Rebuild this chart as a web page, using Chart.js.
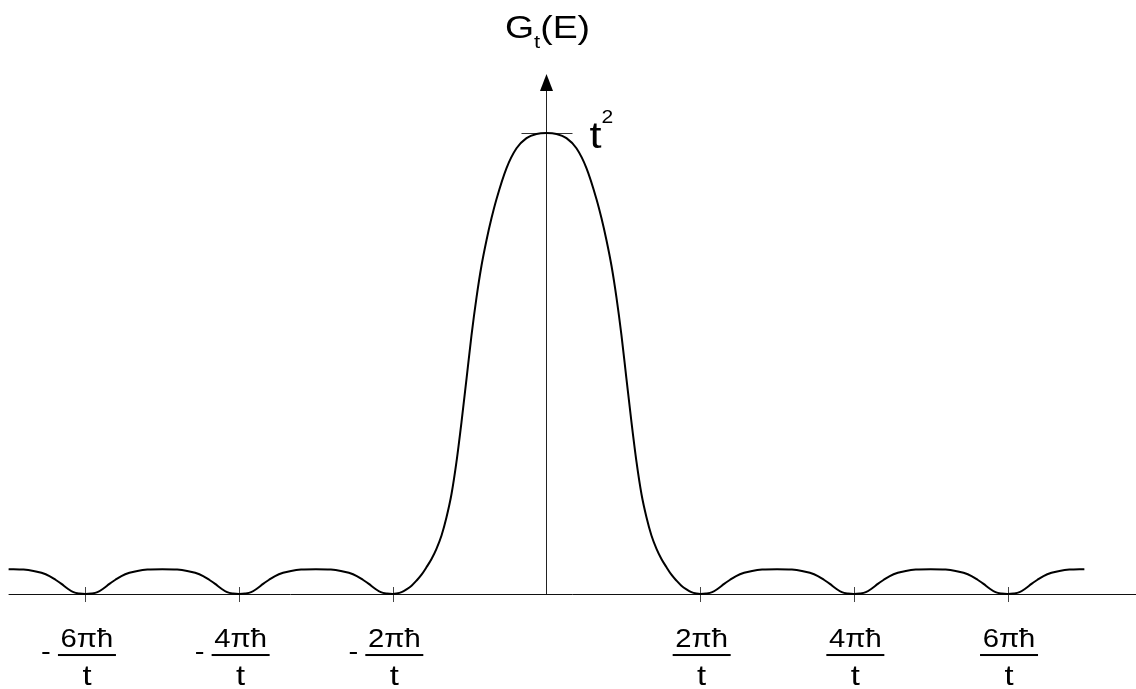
<!DOCTYPE html>
<html>
<head>
<meta charset="utf-8">
<script src="https://cdn.jsdelivr.net/npm/chart.js@4/dist/chart.umd.min.js"></script>
<style>
html,body{margin:0;padding:0;background:#fff;}
#wrap{width:1136px;height:689px;}
</style>
</head>
<body>
<div id="wrap"><canvas id="c" width="1136" height="689"></canvas></div>
<script>
// Energy in units of 2πħ/t, G normalised to t² = 1
const energy = [
  -3.5, -3.403, -3.338, -3.286, -3.234, -3.195, -3.156, -3.117, -3.078, -3.039, -3.0,
  -2.961, -2.922, -2.883, -2.844, -2.805, -2.766, -2.714, -2.662, -2.597, -2.5,
  -2.403, -2.338, -2.286, -2.234, -2.195, -2.156, -2.117, -2.078, -2.039, -2.0,
  -1.961, -1.922, -1.883, -1.844, -1.805, -1.766, -1.714, -1.662, -1.597, -1.5,
  -1.403, -1.338, -1.286, -1.234, -1.195, -1.156, -1.117, -1.078, -1.039, -1.0,
  -0.976, -0.943, -0.911, -0.878, -0.846, -0.813, -0.781, -0.748, -0.716, -0.683,
  -0.651, -0.618, -0.586, -0.553, -0.520, -0.488, -0.455, -0.423, -0.390, -0.358,
  -0.325, -0.260, -0.195, -0.130, -0.065, 0,
  0.065, 0.130, 0.195, 0.260, 0.325, 0.358, 0.390, 0.423, 0.455, 0.488,
  0.520, 0.553, 0.586, 0.618, 0.651, 0.683, 0.716, 0.748, 0.781, 0.813,
  0.846, 0.878, 0.911, 0.943, 0.976, 1.0,
  1.039, 1.078, 1.117, 1.156, 1.195, 1.234, 1.286, 1.338, 1.403, 1.5,
  1.597, 1.662, 1.714, 1.766, 1.805, 1.844, 1.883, 1.922, 1.961, 2.0,
  2.039, 2.078, 2.117, 2.156, 2.195, 2.234, 2.286, 2.338, 2.403, 2.5,
  2.597, 2.662, 2.714, 2.766, 2.805, 2.844, 2.883, 2.922, 2.961, 3.0,
  3.039, 3.078, 3.117, 3.156, 3.195, 3.234, 3.286, 3.338, 3.403, 3.5
];
const gValues = [
  0.054, 0.053, 0.050, 0.046, 0.039, 0.031, 0.022, 0.012, 0.004, 0.001, 0,
  0.001, 0.004, 0.012, 0.022, 0.031, 0.039, 0.046, 0.050, 0.053, 0.054,
  0.053, 0.050, 0.046, 0.039, 0.031, 0.022, 0.012, 0.004, 0.001, 0,
  0.001, 0.004, 0.012, 0.022, 0.031, 0.039, 0.046, 0.050, 0.053, 0.054,
  0.053, 0.050, 0.046, 0.039, 0.031, 0.022, 0.012, 0.004, 0.001, 0,
  0.001, 0.004, 0.010, 0.018, 0.029, 0.042, 0.058, 0.076, 0.098, 0.127,
  0.166, 0.217, 0.286, 0.373, 0.468, 0.561, 0.644, 0.712, 0.768, 0.815,
  0.857, 0.924, 0.967, 0.989, 0.998, 1.0,
  0.998, 0.989, 0.967, 0.924, 0.857, 0.815, 0.768, 0.712, 0.644, 0.561,
  0.468, 0.373, 0.286, 0.217, 0.166, 0.127, 0.098, 0.076, 0.058, 0.042,
  0.029, 0.018, 0.010, 0.004, 0.001, 0,
  0.001, 0.004, 0.012, 0.022, 0.031, 0.039, 0.046, 0.050, 0.053, 0.054,
  0.053, 0.050, 0.046, 0.039, 0.031, 0.022, 0.012, 0.004, 0.001, 0,
  0.001, 0.004, 0.012, 0.022, 0.031, 0.039, 0.046, 0.050, 0.053, 0.054,
  0.053, 0.050, 0.046, 0.039, 0.031, 0.022, 0.012, 0.004, 0.001, 0,
  0.001, 0.004, 0.012, 0.022, 0.031, 0.039, 0.046, 0.050, 0.053, 0.054
];
const tickValues = [-3, -2, -1, 1, 2, 3];
const tickSigns = ['-', '-', '-', '', '', ''];
const tickNumerators = ['6πħ', '4πħ', '2πħ', '2πħ', '4πħ', '6πħ'];
const tickDenominator = 't';
const peakValue = 1;
const peakLabel = 't';
const peakSup = '2';
const titleMain = 'G';
const titleSub = 't';
const titleRest = '(E)';
const axisTopValue = 1.128;
const baselineStart = -3.5;

const points = energy.map((e, i) => ({x: e, y: gValues[i]}));
const FONT = '"Liberation Sans", Arial, sans-serif';
const STRETCH = 1.17;

// draw text horizontally stretched, anchored at (x, y)
function sText(ctx, str, x, y, font, align) {
  ctx.save();
  ctx.font = font;
  const w = ctx.measureText(str).width * STRETCH;
  let left = x;
  if (align === 'center') left = x - w / 2;
  ctx.translate(left, y);
  ctx.scale(STRETCH, 1);
  ctx.textAlign = 'left';
  ctx.fillText(str, 0, 0);
  ctx.restore();
  return w;
}
function sWidth(ctx, str, font) {
  ctx.save();
  ctx.font = font;
  const w = ctx.measureText(str).width * STRETCH;
  ctx.restore();
  return w;
}

const decor = {
  id: 'decor',
  beforeDatasetsDraw(chart) {
    const ctx = chart.ctx;
    const xs = chart.scales.x, ys = chart.scales.y;
    const x0 = xs.getPixelForValue(0);
    const y0 = ys.getPixelForValue(0);
    const yTop = ys.getPixelForValue(axisTopValue);
    const yPeak = ys.getPixelForValue(peakValue);
    const ax = Math.round(x0) + 0.5;
    ctx.save();
    // baseline
    ctx.strokeStyle = '#111';
    ctx.lineWidth = 1;
    ctx.beginPath();
    ctx.moveTo(xs.getPixelForValue(baselineStart), Math.round(y0) + 0.5);
    ctx.lineTo(chart.width, Math.round(y0) + 0.5);
    ctx.stroke();
    // vertical axis
    ctx.strokeStyle = '#222';
    ctx.beginPath();
    ctx.moveTo(ax, y0);
    ctx.lineTo(ax, yTop + 10);
    ctx.stroke();
    // arrow head
    ctx.fillStyle = '#000';
    ctx.beginPath();
    ctx.moveTo(ax, yTop);
    ctx.lineTo(ax - 6.5, yTop + 17);
    ctx.lineTo(ax + 6.5, yTop + 17);
    ctx.closePath();
    ctx.fill();
    // peak tick
    ctx.strokeStyle = '#333';
    ctx.beginPath();
    ctx.moveTo(x0 - 25, Math.round(yPeak) + 0.5);
    ctx.lineTo(x0 + 26, Math.round(yPeak) + 0.5);
    ctx.stroke();
    // zero ticks
    ctx.strokeStyle = '#444';
    tickValues.forEach(v => {
      const px = Math.round(xs.getPixelForValue(v)) + 0.5;
      ctx.beginPath();
      ctx.moveTo(px, y0 - 7);
      ctx.lineTo(px, y0 + 8);
      ctx.stroke();
    });
    ctx.restore();
  },
  afterDraw(chart) {
    const ctx = chart.ctx;
    const xs = chart.scales.x, ys = chart.scales.y;
    const x0 = xs.getPixelForValue(0);
    const y0 = ys.getPixelForValue(0);
    const yPeak = ys.getPixelForValue(peakValue);
    ctx.save();
    ctx.fillStyle = '#000';
    ctx.textBaseline = 'alphabetic';
    const fNum = '25px ' + FONT;
    const fDen = '28px ' + FONT;
    // tick labels
    tickValues.forEach((v, i) => {
      const px = xs.getPixelForValue(v) + 1.5;
      sText(ctx, tickNumerators[i], px, y0 + 53, fNum, 'center');
      ctx.fillRect(px - 29, y0 + 60, 58, 2);
      sText(ctx, tickDenominator, px, y0 + 91, fDen, 'center');
      if (tickSigns[i]) {
        sText(ctx, tickSigns[i], px - 41, y0 + 66, fNum, 'center');
      }
    });
    // title G_t(E)
    const fT = '32px ' + FONT, fTs = '19px ' + FONT;
    const total = sWidth(ctx, titleMain, fT) + sWidth(ctx, titleSub, fTs) + sWidth(ctx, titleRest, fT);
    let tx = x0 + 1 - total / 2;
    tx += sText(ctx, titleMain, tx, 38, fT, 'left');
    tx += sText(ctx, titleSub, tx, 48, fTs, 'left');
    sText(ctx, titleRest, tx, 38, fT, 'left');
    // peak label t^2
    const wt = sText(ctx, peakLabel, x0 + 43, yPeak + 15, '37px ' + FONT, 'left');
    sText(ctx, peakSup, x0 + 43 + wt, yPeak - 10, '18px ' + FONT, 'left');
    ctx.restore();
  }
};

new Chart(document.getElementById('c'), {
  type: 'scatter',
  data: {
    datasets: [{
      data: points,
      showLine: true,
      borderColor: '#000',
      borderWidth: 2,
      pointRadius: 0,
      fill: false,
      cubicInterpolationMode: 'monotone'
    }]
  },
  options: {
    responsive: false,
    animation: false,
    layout: {padding: 0},
    plugins: {legend: {display: false}, tooltip: {enabled: false}},
    scales: {
      x: {type: 'linear', min: -3.556, max: 3.836, display: false},
      y: {type: 'linear', min: -0.206, max: 1.2885, display: false}
    }
  },
  plugins: [decor]
});
</script>
</body>
</html>
